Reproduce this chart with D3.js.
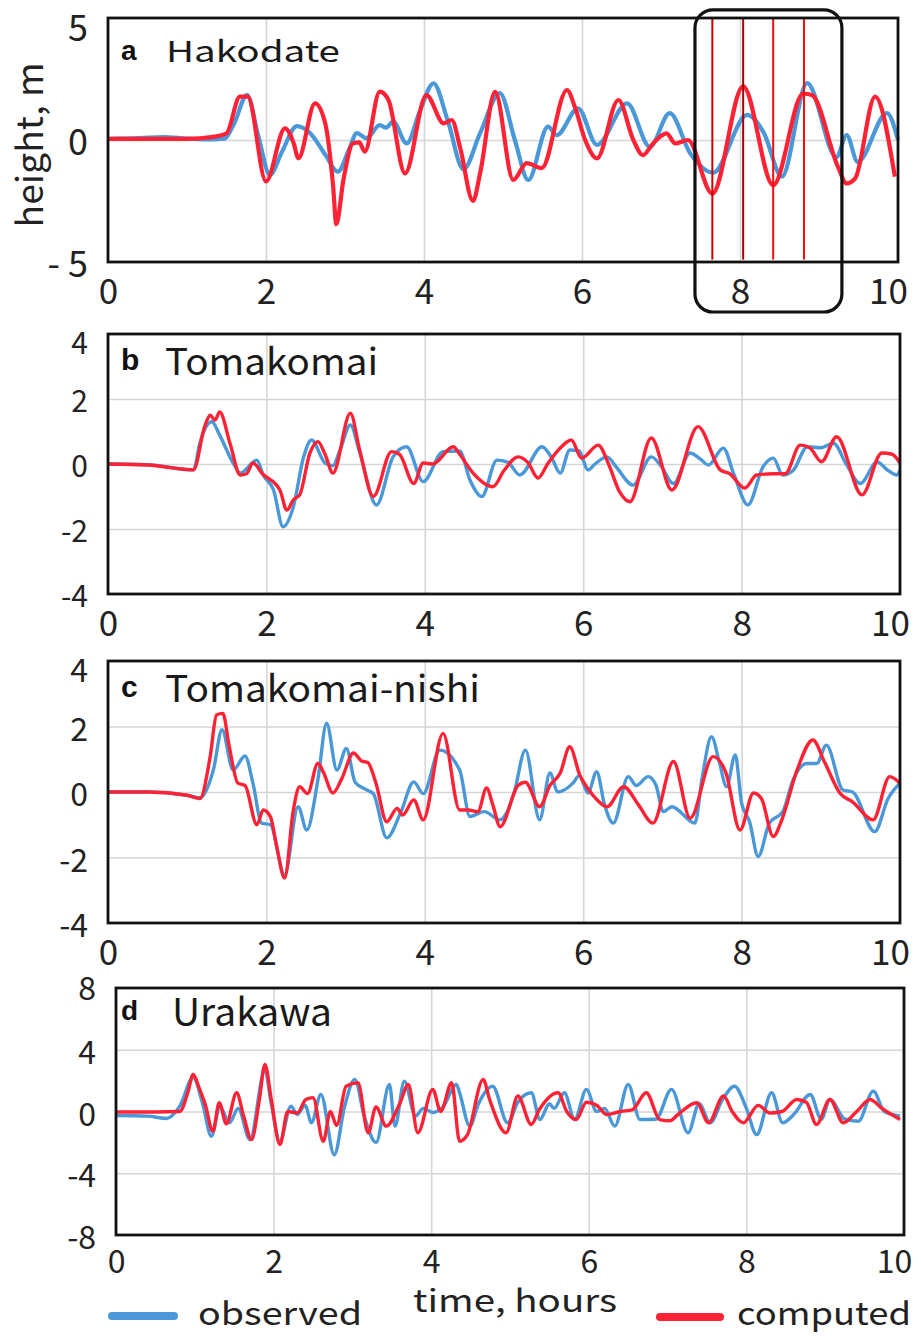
<!DOCTYPE html>
<html>
<head>
<meta charset="utf-8">
<script src="https://cdn.jsdelivr.net/npm/d3@7"></script>
<style>
body{margin:0;background:#fff;}
</style>
</head>
<body>
<script>
//page size
var width = 921;
var height = 1336;
var font = "'Noto Sans CJK JP','Noto Sans',sans-serif";
var blue = "#4a98d8";
var red = "#ff2235";

//x axis ticks (hours), same for all panels
var xTicks = [0, 2, 4, 6, 8, 10];
var xGrid = [2, 4, 6, 8];

//a - Hakodate  [time h, height m]
var hakodateObs = [[0,0.05],[0.4,0.08],[0.7,0.12],[1.0,0.06],[1.3,0.02],[1.47,0.05],[1.6,0.7],[1.76,1.85],[1.9,0.2],[2.05,-1.43],[2.2,-0.5],[2.39,0.57],[2.56,0.28],[2.75,-0.6],[2.91,-1.3],[3.05,-0.4],[3.15,0.28],[3.27,0.07],[3.44,0.61],[3.52,0.51],[3.61,0.75],[3.78,-0.14],[3.95,1.2],[4.12,2.32],[4.3,0.8],[4.5,-1.2],[4.71,0.28],[4.96,1.92],[5.15,0.0],[5.32,-1.64],[5.57,0.55],[5.68,0.2],[5.95,1.3],[6.19,-0.2],[6.57,1.5],[6.86,-0.28],[7.11,1.1],[7.37,-0.55],[7.66,-1.34],[8.09,1.03],[8.3,0.3],[8.53,-1.5],[8.85,2.33],[9.22,-0.7],[9.35,0.2],[9.49,-0.9],[9.86,1.1],[10,0.0]];
var hakodateCmp = [[0,0.05],[0.5,0.05],[1.0,0.05],[1.33,0.13],[1.5,0.27],[1.67,1.78],[1.77,1.78],[2.0,-1.7],[2.24,0.48],[2.35,-0.13],[2.41,-0.75],[2.62,1.5],[2.75,0.68],[2.85,-1.9],[2.89,-3.45],[2.98,-1.64],[3.1,-0.14],[3.18,-0.1],[3.25,-0.48],[3.44,1.98],[3.55,1.64],[3.76,-1.37],[4.03,1.84],[4.25,0.68],[4.35,0.82],[4.46,-0.35],[4.62,-2.5],[4.71,-1.37],[4.9,1.97],[5.13,-1.64],[5.3,-0.95],[5.49,-1.15],[5.81,2.05],[5.91,1.35],[6.04,0.0],[6.19,-0.75],[6.46,1.64],[6.65,0.0],[6.77,-0.62],[6.9,-0.14],[7.07,0.27],[7.18,-0.14],[7.34,0.0],[7.65,-2.2],[8.04,2.2],[8.42,-1.85],[8.8,1.9],[8.91,1.84],[9.24,-1.1],[9.35,-1.78],[9.46,-1.56],[9.71,1.78],[9.96,-1.5]];
var hakodateYTicks = [5, 0, -5];
var hakodateYLabels = ["5", "0", "- 5"];
var hakodateHGrid = [0];
//marked times and the rounded box in panel a
var markTimes = [7.65, 8.04, 8.42, 8.81];
var boxTimes = [7.43, 9.29];
var boxHeights = [5.33, -7.05];

//b - Tomakomai
var tomakomaiObs = [[0,0],[0.5,-0.02],[1.08,-0.18],[1.16,0.65],[1.31,1.3],[1.41,0.89],[1.58,0.03],[1.67,-0.28],[1.88,0.12],[1.96,-0.34],[2.09,-0.8],[2.21,-1.93],[2.34,-1.32],[2.47,0.22],[2.57,0.74],[2.74,0.03],[2.84,-0.05],[2.93,0.43],[3.06,1.2],[3.18,0.34],[3.39,-1.26],[3.6,0.22],[3.77,0.53],[3.98,-0.54],[4.23,0.38],[4.44,0.4],[4.57,-0.49],[4.72,-1.0],[4.91,0.12],[5.05,0.05],[5.2,-0.34],[5.48,0.53],[5.6,0.2],[5.71,-0.28],[5.83,0.43],[5.95,0.4],[6.06,-0.18],[6.15,0.0],[6.3,0.22],[6.42,-0.1],[6.63,-0.65],[6.86,0.22],[6.98,-0.05],[7.14,-0.6],[7.35,0.34],[7.48,0.15],[7.58,-0.03],[7.77,0.49],[7.9,-0.3],[8.08,-1.26],[8.27,-0.09],[8.4,0.18],[8.52,-0.34],[8.65,-0.2],[8.83,0.53],[9.0,0.5],[9.16,0.64],[9.32,0.0],[9.5,-0.6],[9.71,0.06],[9.85,-0.2],[9.96,-0.34],[10,-0.2]];
var tomakomaiCmp = [[0,0],[0.5,-0.03],[1.08,-0.18],[1.22,1.15],[1.29,1.5],[1.35,1.35],[1.41,1.6],[1.54,0.64],[1.67,-0.34],[1.75,-0.3],[1.83,0.03],[1.95,-0.3],[2.17,-0.8],[2.26,-1.42],[2.34,-1.1],[2.42,-0.95],[2.55,0.34],[2.65,0.69],[2.74,0.3],[2.84,-0.28],[3.06,1.56],[3.18,0.4],[3.35,-1.0],[3.58,0.38],[3.68,0.3],[3.86,-0.6],[3.98,0.03],[4.1,0.0],[4.36,0.53],[4.44,0.3],[4.61,-0.28],[4.86,-0.7],[5.0,-0.2],[5.18,0.22],[5.3,0.05],[5.43,-0.43],[5.55,0.0],[5.71,0.49],[5.85,0.74],[5.98,0.18],[6.19,0.58],[6.32,0.0],[6.46,-0.86],[6.59,-1.16],[6.86,0.8],[7.12,-0.8],[7.45,1.15],[7.73,-0.18],[7.85,-0.3],[8.04,-0.74],[8.19,-0.34],[8.4,-0.3],[8.55,-0.3],[8.74,0.58],[8.86,0.5],[9.01,0.07],[9.2,0.84],[9.52,-0.95],[9.77,0.34],[9.9,0.3],[10,0.03]];
var tomakomaiYTicks = [4, 2, 0, -2, -4];
var tomakomaiYLabels = ["4", "2", "0", "-2", "-4"];
var tomakomaiHGrid = [2, 0, -2];

//c - Tomakomai-nishi
var nishiObs = [[0,0],[0.5,0.0],[1.0,-0.1],[1.16,-0.18],[1.33,0.67],[1.44,1.9],[1.58,0.67],[1.73,1.1],[1.83,0.27],[1.94,-0.95],[2.05,-1.0],[2.23,-2.53],[2.4,-0.45],[2.51,-1.16],[2.65,0.37],[2.76,2.1],[2.89,0.67],[3.01,1.33],[3.12,0.3],[3.27,0.06],[3.35,-0.05],[3.52,-1.4],[3.7,-0.6],[3.86,0.31],[3.98,-0.05],[4.19,1.28],[4.44,0.67],[4.57,-0.75],[4.75,-0.6],[4.95,-0.85],[5.05,-0.55],[5.13,0.0],[5.27,1.28],[5.45,-0.85],[5.58,0.58],[5.68,0.0],[5.87,0.27],[5.95,0.5],[6.06,-0.03],[6.17,0.62],[6.27,-0.4],[6.38,-0.95],[6.57,0.47],[6.67,0.2],[6.82,0.47],[6.92,0.2],[7.01,-0.6],[7.12,-0.45],[7.41,-0.95],[7.5,0.4],[7.62,1.69],[7.72,0.9],[7.81,0.16],[7.92,1.13],[8.0,-0.34],[8.1,-0.9],[8.21,-1.97],[8.35,-0.95],[8.52,-0.6],[8.65,0.37],[8.82,0.87],[8.95,0.87],[9.07,1.43],[9.28,0.06],[9.4,0.0],[9.68,-1.21],[9.85,-0.2],[10,0.27]];
var nishiCmp = [[0,0],[0.5,0.0],[1.0,-0.1],[1.16,-0.2],[1.29,1.08],[1.37,2.35],[1.45,2.4],[1.53,1.4],[1.64,0.27],[1.73,0.2],[1.88,-1.0],[1.96,-0.55],[2.05,-0.75],[2.13,-1.67],[2.23,-2.63],[2.34,-0.55],[2.42,0.16],[2.52,-0.05],[2.65,0.88],[2.72,0.6],[2.84,-0.03],[2.95,0.4],[3.1,1.19],[3.2,0.95],[3.28,0.9],[3.38,0.3],[3.52,-0.91],[3.65,-0.5],[3.72,-0.7],[3.86,-0.24],[3.98,-0.85],[4.23,1.79],[4.44,-0.55],[4.55,-0.55],[4.67,-0.6],[4.78,0.12],[4.86,-0.4],[4.95,-1.06],[5.18,0.21],[5.27,0.3],[5.45,-0.45],[5.58,0.2],[5.71,0.58],[5.83,1.38],[5.96,0.5],[6.06,0.1],[6.18,-0.25],[6.3,-0.45],[6.51,0.16],[6.7,-0.4],[6.88,-0.95],[7.14,0.93],[7.35,-0.8],[7.64,1.08],[7.8,0.6],[7.98,-1.16],[8.15,-0.03],[8.25,-0.2],[8.4,-1.36],[8.5,-0.9],[8.7,0.67],[8.9,1.59],[9.05,0.9],[9.24,-0.03],[9.4,-0.3],[9.66,-0.85],[9.87,0.47],[10,0.27]];
var nishiYTicks = [4, 2, 0, -2, -4];
var nishiYLabels = ["4", "2", "0", "-2", "-4"];
var nishiHGrid = [2, 0, -2];

//d - Urakawa
var urakawaObs = [[0,-0.26],[0.4,-0.3],[0.64,-0.45],[0.81,0.35],[0.98,2.2],[1.1,0.5],[1.21,-1.6],[1.32,0.3],[1.44,-0.73],[1.55,0.2],[1.7,-1.82],[1.89,2.7],[1.97,0.5],[2.08,-1.93],[2.22,0.35],[2.3,-0.2],[2.4,0.4],[2.48,-0.73],[2.6,1.1],[2.77,-2.8],[2.9,0.3],[3.03,2.08],[3.15,-0.3],[3.3,-2.0],[3.47,1.75],[3.54,-0.95],[3.66,1.97],[3.8,-0.3],[3.9,0.2],[4.02,-0.06],[4.15,0.3],[4.32,1.75],[4.36,1.21],[4.49,-0.95],[4.6,0.5],[4.78,1.64],[4.97,-0.73],[5.1,0.6],[5.27,1.21],[5.38,-0.52],[5.5,0.5],[5.56,0.2],[5.69,1.21],[5.82,-0.52],[5.97,1.43],[6.1,0.0],[6.2,0.2],[6.33,-0.95],[6.5,1.75],[6.65,-0.52],[6.85,-0.5],[7.05,1.43],[7.26,-1.38],[7.4,0.5],[7.54,-0.73],[7.7,0.8],[7.85,1.64],[8.0,0.2],[8.13,-1.5],[8.32,1.21],[8.46,-0.73],[8.6,-0.2],[8.81,1.1],[8.95,-0.5],[9.06,0.78],[9.25,-0.5],[9.42,-0.63],[9.61,1.32],[9.75,0.0],[9.95,-0.3]];
var urakawaCmp = [[0,-0.03],[0.5,-0.03],[0.81,0.0],[0.91,1.21],[0.98,2.4],[1.05,1.6],[1.13,0.5],[1.23,-1.28],[1.31,0.57],[1.4,-0.8],[1.53,1.21],[1.62,-0.3],[1.72,-1.82],[1.82,0.8],[1.89,3.05],[1.97,0.8],[2.08,-2.14],[2.18,0.0],[2.3,-0.1],[2.41,0.78],[2.5,0.9],[2.63,-1.93],[2.72,0.0],[2.8,-0.9],[2.92,1.64],[3.07,1.86],[3.2,-1.38],[3.3,0.3],[3.43,-0.95],[3.6,0.5],[3.71,1.75],[3.83,-1.38],[4.02,1.43],[4.12,0.0],[4.26,1.86],[4.36,-1.93],[4.46,-1.5],[4.66,2.08],[4.74,0.8],[4.95,-1.38],[5.1,1.0],[5.27,-0.84],[5.37,0.1],[5.61,1.21],[5.72,0.0],[5.84,-0.52],[5.97,0.6],[6.1,0.4],[6.23,-0.2],[6.4,0.0],[6.55,0.1],[6.73,1.21],[6.9,-0.52],[7.03,-0.6],[7.13,-0.2],[7.37,0.57],[7.52,-0.73],[7.71,1.0],[7.82,0.0],[7.96,-0.73],[8.15,0.4],[8.3,-0.1],[8.45,0.0],[8.64,0.78],[8.76,0.6],[8.89,-0.84],[9.06,0.78],[9.23,-0.73],[9.4,0.0],[9.57,0.78],[9.72,0.2],[9.95,-0.52]];
var urakawaYTicks = [8, 4, 0, -4, -8];
var urakawaYLabels = ["8", "4", "0", "-4", "-8"];
var urakawaHGrid = [4, 0, -4];

//panel layout
var panels = [
  {tag:"a", name:"Hakodate", obs:hakodateObs, cmp:hakodateCmp, yTicks:hakodateYTicks, yLabels:hakodateYLabels, hGrid:hakodateHGrid,
   left:108, right:898, top:18, bottom:262, lw:4.2, yFont:36, topShift:10, xFont:35, xGap:29,
   nameX:166, nameBase:62, nameSize:29, nameLen:174, tagSize:28, tagBase:60},
  {tag:"b", name:"Tomakomai", obs:tomakomaiObs, cmp:tomakomaiCmp, yTicks:tomakomaiYTicks, yLabels:tomakomaiYLabels, hGrid:tomakomaiHGrid,
   left:108, right:900, top:334, bottom:594, lw:3.4, yFont:30, topShift:9, xFont:35, xGap:29,
   nameX:165, nameBase:375, nameSize:37, nameLen:213, tagSize:30, tagBase:370},
  {tag:"c", name:"Tomakomai-nishi", obs:nishiObs, cmp:nishiCmp, yTicks:nishiYTicks, yLabels:nishiYLabels, hGrid:nishiHGrid,
   left:108, right:900, top:661, bottom:923, lw:3.4, yFont:32, topShift:9, xFont:35, xGap:29,
   nameX:165, nameBase:702, nameSize:37, nameLen:315, tagSize:30, tagBase:697},
  {tag:"d", name:"Urakawa", obs:urakawaObs, cmp:urakawaCmp, yTicks:urakawaYTicks, yLabels:urakawaYLabels, hGrid:urakawaHGrid,
   left:116, right:904, top:988, bottom:1235, lw:3.4, yFont:32, topShift:0, xFont:32, xGap:26,
   nameX:172, nameBase:1026, nameSize:38, nameLen:160, tagSize:28, tagBase:1020}
];

//insert svg in body
var svg = d3.select("body").append("svg")
  .attr("width", width)
  .attr("height", height)
  .style("background", "#fff");

panels.forEach(function(p){
  var dom = d3.extent(p.yTicks);
  var x = d3.scaleLinear().domain([0, 10]).range([p.left, p.right]);
  var y = d3.scaleLinear().domain(dom).range([p.bottom, p.top]);
  var g = svg.append("g");

  //vertical grid
  g.append("g")
    .attr("transform", "translate(0," + p.bottom + ")")
    .call(d3.axisBottom(x).tickValues(xGrid).tickSize(-(p.bottom - p.top)).tickFormat(""))
    .call(function(s){
      s.select(".domain").remove();
      s.selectAll("line").attr("stroke", "#d6d6d6").attr("stroke-width", 1.6);
    });

  //horizontal grid
  g.append("g")
    .attr("transform", "translate(" + p.left + ",0)")
    .call(d3.axisLeft(y).tickValues(p.hGrid).tickSize(-(p.right - p.left)).tickFormat(""))
    .call(function(s){
      s.select(".domain").remove();
      s.selectAll("line").attr("stroke", "#d6d6d6").attr("stroke-width", 1.6);
    });

  //x tick labels (the "10" sits a bit left so it stays on the page)
  g.append("g")
    .attr("transform", "translate(0," + p.bottom + ")")
    .call(d3.axisBottom(x).tickValues(xTicks).tickSize(0).tickFormat(d3.format("d")))
    .call(function(s){
      s.select(".domain").remove();
      s.attr("font-family", font).attr("font-size", p.xFont);
      s.selectAll("text").attr("y", p.xGap).attr("dy", "0.36em").attr("fill", "#222")
        .attr("x", function(d){ return d === 10 ? -10 : 0; });
    });

  //y tick labels
  g.append("g")
    .attr("transform", "translate(" + (p.left - 20) + ",0)")
    .call(d3.axisLeft(y).tickValues(p.yTicks).tickSize(0).tickPadding(0)
      .tickFormat(function(d, k){ return p.yLabels[k]; }))
    .call(function(s){
      s.select(".domain").remove();
      s.attr("font-family", font).attr("font-size", p.yFont);
      s.selectAll("text").attr("fill", "#222").attr("dy", "0.36em")
        .attr("y", function(d){ return d === dom[1] ? p.topShift : 2; });
    });

  //series
  var line = d3.line()
    .x(function(d){ return x(d[0]); })
    .y(function(d){ return y(d[1]); })
    .curve(d3.curveMonotoneX);

  g.append("path").datum(p.obs)
    .attr("d", line).attr("fill", "none")
    .attr("stroke", blue).attr("stroke-width", p.lw)
    .attr("stroke-linejoin", "round");
  g.append("path").datum(p.cmp)
    .attr("d", line).attr("fill", "none")
    .attr("stroke", red).attr("stroke-width", p.lw)
    .attr("stroke-linejoin", "round");

  //marks for panel a
  if(p.tag === "a"){
    var markColors = ["#cc0000", "#a80000", "#ff0a0a", "#ff0a0a"];
    g.selectAll(".mark").data(markTimes).enter().append("line")
      .attr("x1", function(d){ return x(d); })
      .attr("x2", function(d){ return x(d); })
      .attr("y1", y(5)).attr("y2", y(-4.9))
      .attr("stroke", function(d, k){ return markColors[k]; })
      .attr("stroke-width", 2);
  }

  //frame
  g.append("rect")
    .attr("x", p.left).attr("y", p.top)
    .attr("width", p.right - p.left).attr("height", p.bottom - p.top)
    .attr("fill", "none").attr("stroke", "#111").attr("stroke-width", 2.8);

  if(p.tag === "a"){
    g.append("rect")
      .attr("x", x(boxTimes[0])).attr("y", y(boxHeights[0]))
      .attr("width", x(boxTimes[1]) - x(boxTimes[0]))
      .attr("height", y(boxHeights[1]) - y(boxHeights[0]))
      .attr("rx", 18).attr("ry", 18)
      .attr("fill", "none").attr("stroke", "#111").attr("stroke-width", 3.2);
  }

  //panel title
  g.append("text")
    .attr("x", 121).attr("y", p.tagBase)
    .attr("font-family", "'Liberation Sans',Arial,sans-serif")
    .attr("font-weight", "bold").attr("font-size", p.tagSize)
    .attr("fill", "#111")
    .text(p.tag);
  g.append("text")
    .attr("x", p.nameX).attr("y", p.nameBase)
    .attr("font-family", font).attr("font-size", p.nameSize)
    .attr("textLength", p.nameLen).attr("lengthAdjust", "spacingAndGlyphs")
    .attr("fill", "#1a1a1a")
    .text(p.name);
});

//y axis title
svg.append("text")
  .attr("transform", "translate(43,145) rotate(-90)")
  .attr("text-anchor", "middle")
  .attr("font-family", font).attr("font-size", 36)
  .attr("textLength", 165).attr("lengthAdjust", "spacingAndGlyphs")
  .attr("fill", "#222")
  .text("height, m");

//x axis title
svg.append("text")
  .attr("x", 413).attr("y", 1312)
  .attr("font-family", font).attr("font-size", 31)
  .attr("textLength", 204).attr("lengthAdjust", "spacingAndGlyphs")
  .attr("fill", "#222")
  .text("time, hours");

//legend
var legendItems = [
  {label:"observed", color:blue, x1:112, x2:174, ly:1316, tx:198, tb:1325, len:164},
  {label:"computed", color:red, x1:660, x2:720, ly:1317, tx:737, tb:1325, len:174}
];
legendItems.forEach(function(d){
  svg.append("line")
    .attr("x1", d.x1).attr("x2", d.x2).attr("y1", d.ly).attr("y2", d.ly)
    .attr("stroke", d.color).attr("stroke-width", 8).attr("stroke-linecap", "round");
  svg.append("text")
    .attr("x", d.tx).attr("y", d.tb)
    .attr("font-family", font).attr("font-size", 32)
    .attr("textLength", d.len).attr("lengthAdjust", "spacingAndGlyphs")
    .attr("fill", "#222")
    .text(d.label);
});
</script>
</body>
</html>
